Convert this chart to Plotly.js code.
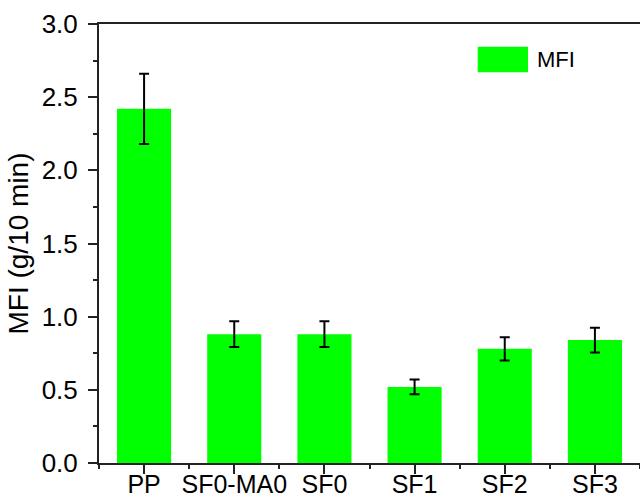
<!DOCTYPE html>
<html>
<head>
<meta charset="utf-8">
<script src="https://cdn.plot.ly/plotly-3.0.1.min.js"></script>
<style>html,body{margin:0;padding:0;background:#fff;}#chart{width:640px;height:500px;}</style>
</head>
<body>
<div id="chart"></div>
<script>
const categories = ["PP", "SF0-MA0", "SF0", "SF1", "SF2", "SF3"];
const mfiValues = [2.42, 0.88, 0.88, 0.52, 0.78, 0.84];
const mfiErrors = [0.24, 0.088, 0.088, 0.05, 0.08, 0.085];
const seriesName = "MFI";
const yTickVals = [0.0, 0.5, 1.0, 1.5, 2.0, 2.5, 3.0];

const positions = categories.map((c, i) => i);
const FONT = "Liberation Sans, Arial, sans-serif";

const trace = {
  type: "bar",
  x: positions,
  y: mfiValues,
  width: 0.6,
  name: seriesName,
  marker: { color: "#00ff00", line: { width: 0 } },
  error_y: { type: "data", array: mfiErrors, visible: true, color: "#000000", thickness: 2, width: 5 },
  showlegend: false,
  hoverinfo: "x+y"
};

const layout = {
  width: 640,
  height: 500,
  margin: { l: 99, r: 0, t: 24, b: 37 },
  paper_bgcolor: "#ffffff",
  plot_bgcolor: "#ffffff",
  font: { family: FONT, size: 26, color: "#000000" },
  xaxis: {
    range: [-0.5, 5.5],
    tickmode: "array",
    tickvals: positions,
    ticktext: categories,
    ticks: "outside",
    ticklen: 9,
    tickwidth: 2,
    tickcolor: "#222222",
    ticklabelstandoff: -11,
    showline: true,
    linewidth: 2,
    linecolor: "#222222",
    mirror: true,
    showgrid: false,
    zeroline: false,
    tickfont: { family: FONT, size: 25, color: "#000000" },
    minor: { tickmode: "linear", tick0: -0.5, dtick: 1, ticks: "outside", ticklen: 4, tickwidth: 2, tickcolor: "#222222", showgrid: false }
  },
  yaxis: {
    range: [0, 3.0],
    tickmode: "array",
    tickvals: yTickVals,
    ticktext: yTickVals.map(v => v.toFixed(1)),
    ticks: "outside",
    ticklen: 9,
    tickwidth: 2,
    tickcolor: "#222222",
    ticklabelstandoff: 5,
    showline: true,
    linewidth: 2,
    linecolor: "#222222",
    showgrid: false,
    zeroline: false,
    tickfont: { family: FONT, size: 26, color: "#000000" },
    title: { text: "MFI (g/10 min)", font: { family: FONT, size: 28, color: "#000000" }, standoff: 5 },
    minor: { tickmode: "linear", tick0: 0.25, dtick: 0.5, ticks: "outside", ticklen: 4, tickwidth: 2, tickcolor: "#222222", showgrid: false }
  },
  shapes: [
    { type: "rect", xref: "paper", yref: "paper", x0: 0.700, x1: 0.793, y0: 0.890, y1: 0.948, fillcolor: "#00ff00", line: { width: 0 } }
  ],
  annotations: [
    { xref: "paper", yref: "paper", x: 0.806, y: 0.919, xanchor: "left", yanchor: "middle", text: seriesName, showarrow: false, font: { family: FONT, size: 22, color: "#000000" } }
  ]
};

Plotly.newPlot("chart", [trace], layout, { displayModeBar: false, staticPlot: true });
</script>
</body>
</html>
